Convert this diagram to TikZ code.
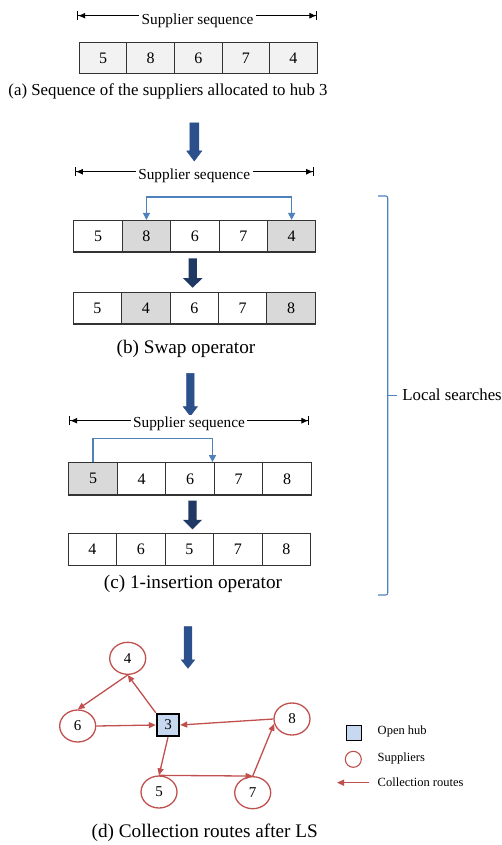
\documentclass[tikz,border=0pt]{standalone}
\usepackage{fontspec}
\setmainfont{Liberation Serif}
\usetikzlibrary{shapes.geometric, arrows.meta, positioning, calc}

\definecolor{cellgray}{RGB}{217,217,217}
\definecolor{cellpale}{RGB}{242,242,242}
\definecolor{linkblue}{RGB}{79,129,189}
\definecolor{navy}{RGB}{31,56,100}
\definecolor{routered}{RGB}{192,80,77}
\definecolor{hubblue}{RGB}{198,217,241}
\definecolor{arrdark}{RGB}{44,80,140}
\definecolor{arrlight}{RGB}{95,145,210}

% block arrow pointing down: x, y top, y tip, half shaft, half head, head length, style
\newcommand{\blockarr}[7]{%
  \path[#7] (#1-#4,#2) -- (#1+#4,#2) -- (#1+#4,#3-#6) -- (#1+#5,#3-#6)
    -- (#1,#3) -- (#1-#5,#3-#6) -- (#1-#4,#3-#6) -- cycle;}

\begin{document}
\begin{tikzpicture}[x=1pt, y=-1pt, thick]
    \tikzstyle{cell} = [rectangle, draw=black!80, line width=1.1pt, anchor=west, inner sep=0pt, minimum width=48.4pt, minimum height=31.5pt, font=\fontsize{16}{16}\selectfont]
    \tikzstyle{span} = [draw=black, line width=0.9pt, {Bar[width=9pt]Latex[length=7pt,width=6pt]}-{Latex[length=7pt,width=6pt]Bar[width=9pt]}]
    \tikzstyle{seqtext} = [fill=white, inner sep=2.5pt, font=\fontsize{15.3}{16}\selectfont]
    \tikzstyle{caption} = [font=\fontsize{19.2}{22}\selectfont]
    \tikzstyle{link} = [draw=linkblue, line width=1.2pt, -{Triangle[length=7pt,width=7pt]}]
    \tikzstyle{bluearr} = [draw=arrdark, line width=0.5pt, left color=arrdark, middle color=arrlight, right color=arrdark]
    \tikzstyle{navyarr} = [fill=navy]
    \tikzstyle{supplier} = [ellipse, draw=routered, line width=1.3pt, minimum width=36pt, minimum height=32pt, inner sep=0pt, font=\fontsize{15}{15}\selectfont]
    \tikzstyle{hub} = [rectangle, draw=black, fill=hubblue, line width=1.8pt, minimum size=22.6pt, inner sep=0pt, font=\fontsize{15}{15}\selectfont]
    \tikzstyle{route} = [draw=routered, line width=1.3pt, -{Triangle[length=7pt,width=6pt]}]
    \tikzstyle{legtext} = [anchor=west, font=\fontsize{12.5}{13}\selectfont]

    \useasboundingbox (0,0) rectangle (502,845);

    % (a) initial sequence
    \coordinate (sal) at (77.3,15.7);
    \coordinate (sar) at (317.3,15.7);
    \draw[span] (sal) -- (sar);
    \node[seqtext] (sa) at (197.5,21) {Supplier sequence};
    \foreach \v [count=\i] in {5,8,6,7,4}
        \node[cell, fill=cellpale, minimum width=47.6pt, minimum height=30.6pt] (a\i) at (78.7+47.6*\i-47.6,58) {\v};
    \node[caption, font=\fontsize{16.8}{20}\selectfont] (capa) at (168,91) {(a) Sequence of the suppliers allocated to hub 3};

    \blockarr{194.3}{123}{161}{4.5}{7.5}{10}{bluearr}

    % (b) swap
    \coordinate (sbl) at (75,171.7);
    \coordinate (sbr) at (314,171.7);
    \draw[span] (sbl) -- (sbr);
    \node[seqtext] (sb) at (194.2,175.5) {Supplier sequence};
    \foreach \v/\f [count=\i] in {5/white,8/cellgray,6/white,7/white,4/cellgray}
        \node[cell, fill=\f] (b\i) at (73.3+48.4*\i-48.4,236.2) {\v};
    \draw[link, {Triangle[length=7pt,width=7pt]}-{Triangle[length=7pt,width=7pt]}] (b2.north) -- ++(0,-23) -| (b5.north);
    \blockarr{192.7}{258.3}{287.7}{4.2}{9.7}{9.5}{navyarr}
    \foreach \v/\f [count=\i] in {5/white,4/cellgray,6/white,7/white,8/cellgray}
        \node[cell, fill=\f] (bb\i) at (72.7+48.4*\i-48.4,308.2) {\v};
    \node[caption] (capb) at (186,349) {(b) Swap operator};

    \blockarr{190.3}{373.3}{416}{3.7}{7.2}{9.5}{bluearr}

    % (c) 1-insertion
    \coordinate (scl) at (69.3,420.7);
    \coordinate (scr) at (309.3,420.7);
    \draw[span] (scl) -- (scr);
    \node[seqtext] (sc) at (189,424) {Supplier sequence};
    \foreach \v/\f [count=\i] in {5/cellgray,4/white,6/white,7/white,8/white}
        \node[cell, fill=\f, minimum height=32.3pt] (c\i) at (68.3+48.5*\i-48.5,478.8) {\v};
    \draw[link] (c1.north) -- ++(0,-23.7) -| ([xshift=-2.3pt]c3.north east);
    \blockarr{192.5}{500.7}{529.3}{4.2}{9.7}{9.5}{navyarr}
    \foreach \v [count=\i] in {4,6,5,7,8}
        \node[cell, fill=white, minimum height=32.4pt] (cc\i) at (67.7+48.5*\i-48.5,549.5) {\v};
    \node[caption] (capc) at (193,584) {(c) 1-insertion operator};

    % local search brace
    \draw[linkblue, line width=1.1pt, rounded corners=2pt] (378,196) -- (387.7,196) -- (387.7,595) -- (378,595);
    \draw[linkblue, line width=1.1pt] (387.7,395.7) -- (397,395.7);
    \node[anchor=west, font=\fontsize{16.8}{20}\selectfont, inner sep=1pt] (ls) at (401,395) {Local searches};

    \blockarr{188}{626.7}{668.3}{3.8}{6.7}{8.5}{bluearr}

    % (d) routes
    \node[hub] (n3) at (168,725) {3};
    \node[supplier] (n4) at (127.7,658.3) {4};
    \node[supplier] (n6) at (77.7,726) {6};
    \node[supplier] (n8) at (292,719) {8};
    \node[supplier] (n5) at (159,792) {5};
    \node[supplier] (n7) at (252.7,792.7) {7};
    \draw[route] (n3.north west) -- (n4.south);
    \draw[route] (n4.south) -- (n6.north);
    \draw[route] (n6.east) -- (n3.west);
    \draw[route] (n8.west) -- (n3.east);
    \draw[route] (n3.south) -- (n5.north);
    \draw[route] (n5.north) -- (n7.north);
    \draw[route] (n7.north) -- (n8.195);
    \node[caption] (capd) at (204.7,832.5) {(d) Collection routes after LS};

    % legend
    \node[hub, minimum size=15pt] (leghub) at (354,733) {};
    \node[legtext] (leghubt) at (374,731) {Open hub};
    \node[circle, draw=routered, line width=1.1pt, minimum size=16pt] (legsup) at (353.3,759.3) {};
    \node[legtext] (legsupt) at (374,758) {Suppliers};
    \coordinate (legr1) at (369,782.7);
    \coordinate (legr2) at (337,782.7);
    \draw[route] (legr1) -- (legr2);
    \node[legtext] (legroutet) at (374,782.7) {Collection routes};
\end{tikzpicture}
\end{document}
